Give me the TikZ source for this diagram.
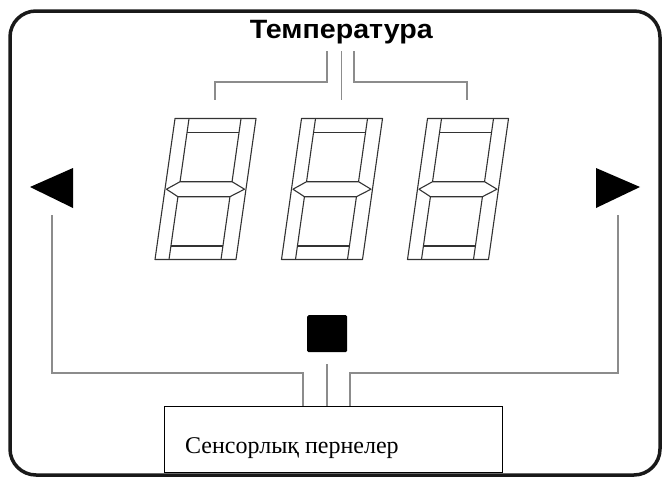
\documentclass[tikz,border=0pt]{standalone}
\usepackage{fontspec}
\setmainfont{Liberation Serif}
\newfontfamily\lsans{Liberation Sans}
\begin{document}
\begin{tikzpicture}[x=1pt,y=-1pt,
  frame/.style={line width=3.5pt,rounded corners=26pt,black!90},
  lead/.style={line width=1.8pt,draw={rgb,255:red,140;green,140;blue,140}},
  seg/.style={line width=1.1pt,draw=black!80,line join=round},
  tri/.style={fill=black},
  keybox/.style={draw=black,line width=1.3pt,minimum width=338pt,minimum height=66pt,inner sep=0pt,anchor=north west},
  lbl/.style={inner sep=0pt}]
\useasboundingbox (0,0) rectangle (662,479);
\fill[white] (0,0) rectangle (662,479);
\draw[frame] (10,11) rectangle (660,475);

% title
\node[lbl,anchor=base,xscale=1.08,font=\lsans\bfseries\fontsize{26.5}{26.5}\selectfont] (temp) at (341.3,38.3) {Температура};

% digits
\def\s{0.142}
\foreach \bx [count=\i] in {155,281.5,407.5}{
  \draw[seg] ({\bx+0+\s*0},{259.5-0}) -- ({\bx+81+\s*0},{259.5-0}) -- ({\bx+81+\s*141},{259.5-141}) -- ({\bx+0+\s*141},{259.5-141}) -- cycle;
  \draw[seg] ({\bx+14+\s*141},{259.5-141}) -- ({\bx+14+\s*77.8},{259.5-77.8});
  \draw[seg] ({\bx+66+\s*141},{259.5-141}) -- ({\bx+66+\s*77.8},{259.5-77.8});
  \draw[seg] ({\bx+14+\s*62.8},{259.5-62.8}) -- ({\bx+14+\s*0},{259.5-0});
  \draw[seg] ({\bx+66+\s*62.8},{259.5-62.8}) -- ({\bx+66+\s*0},{259.5-0});
  \draw[seg] ({\bx+14+\s*127},{259.5-127}) -- ({\bx+66+\s*127},{259.5-127});
  \draw[seg] ({\bx+14+\s*13.5},{259.5-13.5}) -- ({\bx+66+\s*13.5},{259.5-13.5});
  \draw[seg] ({\bx+1.5+\s*70.3},{259.5-70.3}) -- ({\bx+14+\s*77.8},{259.5-77.8}) -- ({\bx+66+\s*77.8},{259.5-77.8})
     -- ({\bx+79.5+\s*70.3},{259.5-70.3}) -- ({\bx+66+\s*62.8},{259.5-62.8}) -- ({\bx+14+\s*62.8},{259.5-62.8}) -- cycle;
  \coordinate (d\i) at ({\bx+40+\s*141},{259.5-141});
}

% top bracket leads
\coordinate (tl) at (327,51);
\coordinate (tm) at (341.5,51);
\coordinate (tr) at (354,51);
\coordinate (dl) at (215,100);
\coordinate (dm) at (341.5,100);
\coordinate (dr) at (467,100);
\draw[lead] (tl) |- (215,82) -- (dl);
\draw[lead] (tm) -- (dm);
\draw[lead] (tr) |- (467,82) -- (dr);

% arrows
\fill[tri] (30,187) -- (73,168) -- (73,208) -- cycle;
\fill[tri] (640,187) -- (596,168) -- (596,208) -- cycle;
\coordinate (la) at (52,215);
\coordinate (ra) at (618,215);

% square key
\node[fill=black,minimum width=40pt,minimum height=37pt,inner sep=0pt,rounded corners=1.5pt,anchor=north west] (sq) at (307,315) {};

% key box
\node[keybox] (keys) at (164,406) {};
\node[lbl,anchor=base west,font=\fontsize{24}{24}\selectfont] (keytext) at (185,453) {Сенсорлық пернелер};

% bottom leads
\coordinate (bl) at (303,406);
\coordinate (bm) at (326.7,406);
\coordinate (br) at (350,406);
\draw[lead] (la) |- (303,373) -- (bl);
\draw[lead] (326.7,364) -- (bm);
\draw[lead] (ra) |- (350,373) -- (br);
\end{tikzpicture}
\end{document}
